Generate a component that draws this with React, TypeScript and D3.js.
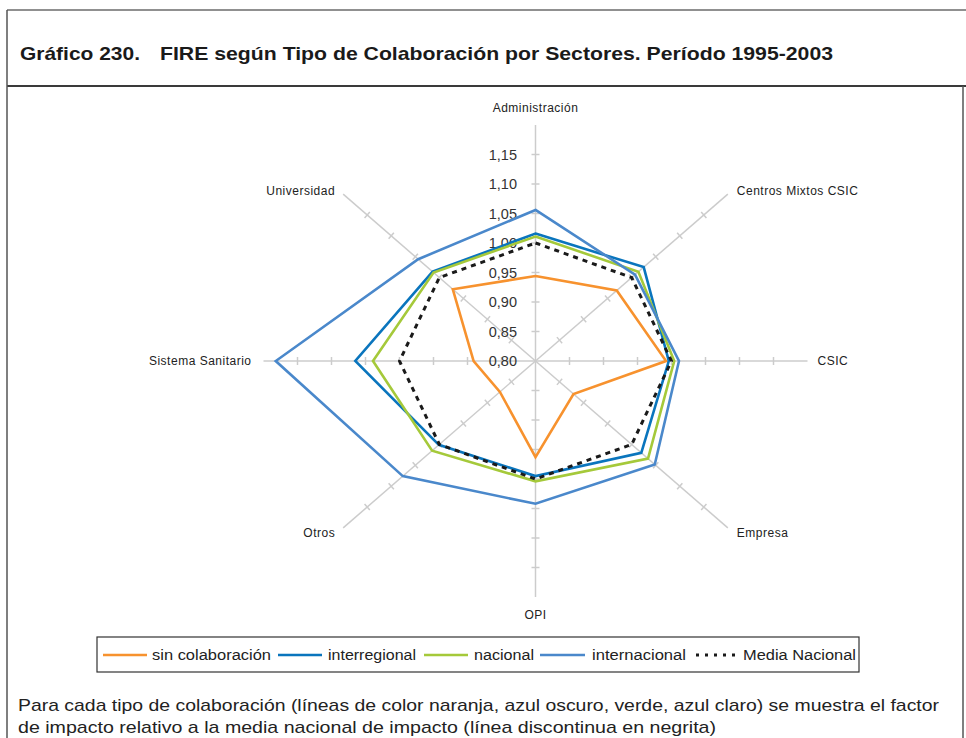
import React from "react";
import * as d3 from "d3";

const categories = [
  "Administración",
  "Centros Mixtos CSIC",
  "CSIC",
  "Empresa",
  "OPI",
  "Otros",
  "Sistema Sanitario",
  "Universidad",
];

const sinColaboracion = [0.944, 0.969, 0.992, 0.879, 0.963, 0.874, 0.891, 0.972];
const interregional = [1.016, 1.025, 0.996, 1.02, 0.995, 1.001, 1.065, 1.014];
const nacional = [1.011, 1.014, 1.004, 1.034, 1.004, 1.015, 1.039, 1.012];
const internacional = [1.056, 1.007, 1.011, 1.048, 1.042, 1.076, 1.182, 1.044];
const mediaNacional = [1, 1, 1, 1, 1, 1, 1, 1];

const tickValues = [0.8, 0.85, 0.9, 0.95, 1.0, 1.05, 1.1, 1.15];
const tickLabels = ["0,80", "0,85", "0,90", "0,95", "1,00", "1,05", "1,10", "1,15"];

const seriesNames = ["sin colaboración", "interregional", "nacional", "internacional", "Media Nacional"];

const W = 966;
const H = 738;
const cx = 535.5;
const cy = 361;
const Rx = 272;
const Ry = 236;

const series = [
  { name: seriesNames[0], values: sinColaboracion, color: "#F7922E", dash: null, width: 2.6 },
  { name: seriesNames[1], values: interregional, color: "#0A75BD", dash: null, width: 2.6 },
  { name: seriesNames[2], values: nacional, color: "#A5C93A", dash: null, width: 2.6 },
  { name: seriesNames[3], values: internacional, color: "#4A88CB", dash: null, width: 2.6 },
  { name: seriesNames[4], values: mediaNacional, color: "#1a1a1a", dash: "5,5", width: 3 },
];

const r = d3.scaleLinear().domain([0.8, 1.2]).range([0, 1]);
const angle = d3
  .scaleLinear()
  .domain([0, categories.length])
  .range([0, 2 * Math.PI]);

function pt(i: number, v: number): [number, number] {
  const a = angle(i);
  return [cx + r(v) * Rx * Math.sin(a), cy - r(v) * Ry * Math.cos(a)];
}

const FONT = "Liberation Sans, Arial, Helvetica, sans-serif";

export default function App() {
  const line = d3
    .line<[number, number]>()
    .x((d) => d[0])
    .y((d) => d[1])
    .curve(d3.curveLinearClosed);

  const axes = categories.map((c, i) => {
    const [x2, y2] = pt(i, 1.2);
    const a = angle(i);
    // display direction
    let dx = Math.sin(a) * Rx;
    let dy = -Math.cos(a) * Ry;
    const len = Math.hypot(dx, dy);
    dx /= len;
    dy /= len;
    const px = -dy;
    const py = dx;
    const ticks = tickValues.slice(1).map((v) => {
      const [tx, ty] = pt(i, v);
      return { x1: tx - px * 4, y1: ty - py * 4, x2: tx + px * 4, y2: ty + py * 4 };
    });
    const s = Math.sin(a);
    const co = Math.cos(a);
    let anchor = "middle";
    let lx = x2;
    let ly = y2;
    if (Math.abs(s) < 0.01) {
      ly = co > 0 ? y2 - 17 : y2 + 18;
    } else if (Math.abs(co) < 0.01) {
      anchor = s > 0 ? "start" : "end";
      lx = s > 0 ? x2 + 10 : x2 - 12;
    } else {
      anchor = s > 0 ? "start" : "end";
      lx = s > 0 ? x2 + 9 : x2 - 8;
      ly = co > 0 ? y2 - 3 : y2 + 5;
    }
    return { c, x2, y2, ticks, anchor, lx, ly };
  });

  const legendItems = [
    { x1: 103, x2: 147, tx: 152, tl: 119 },
    { x1: 278, x2: 322, tx: 328, tl: 88 },
    { x1: 424, x2: 468, tx: 474, tl: 60 },
    { x1: 540, x2: 585, tx: 592, tl: 94 },
    { x1: 696, x2: 735, tx: 743, tl: 113 },
  ];

  return (
    <svg width={W} height={H} style={{ position: "absolute", left: 0, top: 0, background: "#fff" }}>
      <rect x={0} y={0} width={W} height={H} fill="#fff" />
      {/* frame */}
      <line x1={7} y1={10} x2={966} y2={10} stroke="#6b6b6b" strokeWidth={1.5} />
      <line x1={7} y1={86} x2={966} y2={86} stroke="#3a3a3a" strokeWidth={2} />
      <line x1={7} y1={10} x2={7} y2={738} stroke="#555" strokeWidth={1.5} />
      <line x1={963} y1={86} x2={963} y2={738} stroke="#555" strokeWidth={1.5} />

      <text x={20} y={60} fontFamily={FONT} fontWeight="bold" fontSize={19} fill="#1a1a1a" textLength={120} lengthAdjust="spacingAndGlyphs">
        Gráfico 230.
      </text>
      <text x={160} y={60} fontFamily={FONT} fontWeight="bold" fontSize={19} fill="#1a1a1a" textLength={673} lengthAdjust="spacingAndGlyphs">
        FIRE según Tipo de Colaboración por Sectores. Período 1995-2003
      </text>

      {/* axes */}
      {axes.map((ax, i) => (
        <g key={i}>
          <line x1={cx} y1={cy} x2={ax.x2} y2={ax.y2} stroke="#cccccc" strokeWidth={1.5} />
          {ax.ticks.map((t, j) => (
            <line key={j} x1={t.x1} y1={t.y1} x2={t.x2} y2={t.y2} stroke="#cccccc" strokeWidth={1.5} />
          ))}
          <text
            x={ax.lx}
            y={ax.ly}
            textAnchor={ax.anchor}
            dominantBaseline="central"
            fontFamily={FONT}
            fontSize={12}
            letterSpacing={0.5}
            fill="#222"
          >
            {ax.c}
          </text>
        </g>
      ))}

      {/* tick labels */}
      {tickValues.map((v, i) => {
        const [, ty] = pt(0, v);
        return (
          <text key={i} x={517} y={ty} dominantBaseline="central" textAnchor="end" fontFamily={FONT} fontSize={14.5} fill="#333">
            {tickLabels[i]}
          </text>
        );
      })}

      {/* series */}
      {series.map((s, k) => (
        <path
          key={k}
          d={line(s.values.map((v, i) => pt(i, v))) || ""}
          fill="none"
          stroke={s.color}
          strokeWidth={s.width}
          strokeDasharray={s.dash || undefined}
          strokeLinejoin="miter"
        />
      ))}

      {/* legend */}
      <rect x={97} y={637} width={762} height={35} fill="none" stroke="#333" strokeWidth={1.2} />
      {series.map((s, k) => {
        const it = legendItems[k];
        return (
          <g key={k}>
            <line
              x1={it.x1}
              y1={655}
              x2={it.x2}
              y2={655}
              stroke={s.color}
              strokeWidth={s.dash ? 3 : 2.6}
              strokeDasharray={s.dash ? "3,6" : undefined}
            />
            <text x={it.tx} y={655} dominantBaseline="central" fontFamily={FONT} fontSize={14} fill="#222" textLength={it.tl} lengthAdjust="spacingAndGlyphs">
              {s.name}
            </text>
          </g>
        );
      })}

      {/* footnote */}
      <text x={18} y={705} dominantBaseline="central" fontFamily={FONT} fontSize={17} fill="#222" textLength={921} lengthAdjust="spacingAndGlyphs">
        Para cada tipo de colaboración (líneas de color naranja, azul oscuro, verde, azul claro) se muestra el factor
      </text>
      <text x={18} y={727} dominantBaseline="central" fontFamily={FONT} fontSize={17} fill="#222" textLength={698} lengthAdjust="spacingAndGlyphs">
        de impacto relativo a la media nacional de impacto (línea discontinua en negrita)
      </text>
    </svg>
  );
}
